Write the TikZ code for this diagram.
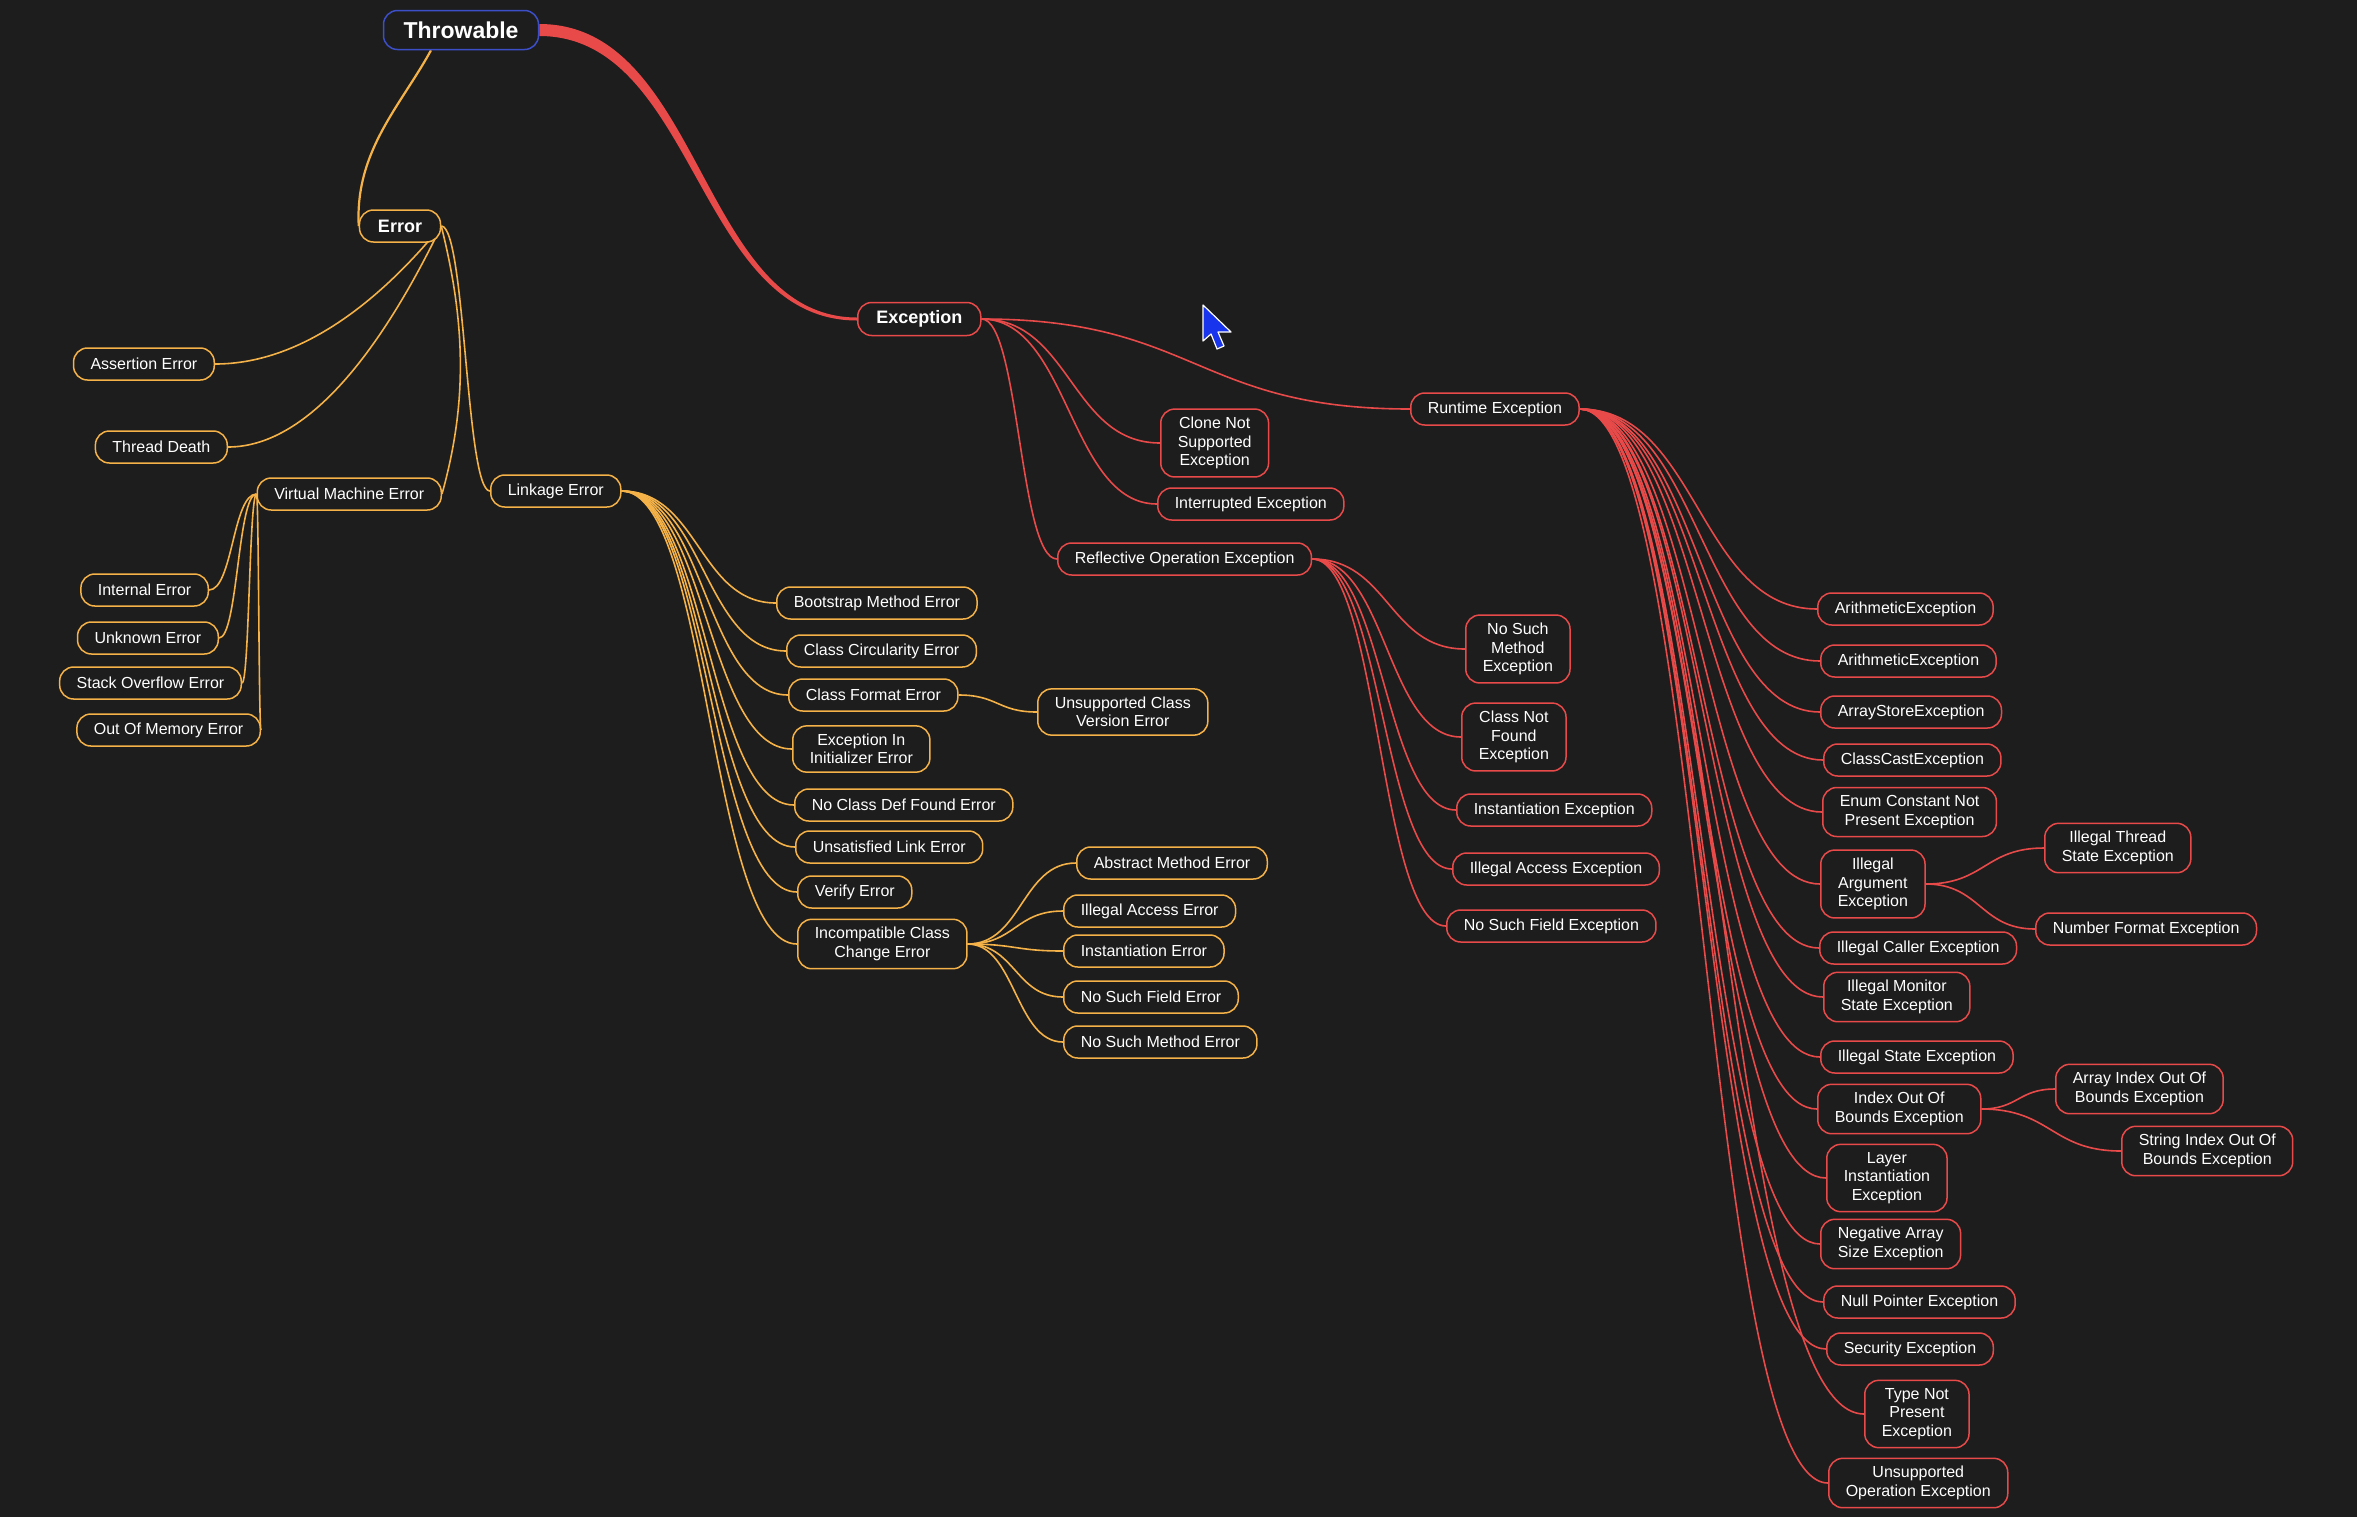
\documentclass[tikz,border=0pt]{standalone}
\usepackage{fontspec}
\setmainfont{Liberation Sans}
\usetikzlibrary{calc}

\definecolor{bgc}{RGB}{29,29,29}
\definecolor{errc}{RGB}{244,178,72}
\definecolor{excc}{RGB}{232,74,74}
\definecolor{thrc}{RGB}{60,78,200}
\definecolor{curc}{RGB}{24,52,236}

\pgfdeclarelayer{bg}
\pgfdeclarelayer{links}
\pgfsetlayers{bg,links,main}

\tikzset{
  mm/.style={rounded corners=14pt, fill=bgc, line width=1.5pt, text=white, align=center,
    inner xsep=17pt, inner ysep=8pt, minimum height=32pt, font=\fontsize{16}{18.5}\selectfont},
  ebox/.style={mm, draw=errc},
  xbox/.style={mm, draw=excc},
  eline/.style={draw=errc, line width=1.6pt},
  xline/.style={draw=excc, line width=1.6pt},
  % horizontal S-curve from one node to the next
  bough/.style={to path={let \p1=(\tikztostart),\p2=(\tikztotarget) in
    .. controls ({(\x1+\x2)/2},\y1) and ({(\x1+\x2)/2},\y2) .. (\tikztotarget)}},
  % curve that drops from the start before turning in
  twig/.style={to path={let \p1=(\tikztostart),\p2=(\tikztotarget) in
    .. controls ({\x1+0.25*(\x2-\x1)},{\y1+0.5*(\y2-\y1)}) and ({\x2-0.4*(\x2-\x1)},\y2) .. (\tikztotarget)}}
}

\begin{document}
\begin{tikzpicture}[x=1pt,y=-1pt]
  \useasboundingbox (0,0) rectangle (2357,1516);
  \begin{pgfonlayer}{bg}
    \fill[bgc] (-20,-20) rectangle (2377,1536);
  \end{pgfonlayer}
  % --- root and main branches ---
  \node[mm,draw=thrc,font=\fontsize{23}{26}\selectfont\bfseries,inner xsep=20pt,minimum height=39pt] (thr) at (461,30) {Throwable};
  \node[ebox,font=\fontsize{18}{21}\selectfont\bfseries,inner xsep=18.5pt] (err) at (400,226) {Error};
  \node[xbox,font=\fontsize{18}{21}\selectfont\bfseries,inner xsep=18.5pt,minimum height=33pt,anchor=west] (exc) at (857,319) {Exception};
  % --- Error side ---
  \foreach \n/\x/\y/\t in {assert/215/364/Assertion Error, tdeath/228/447/Thread Death, vme/442/494/Virtual Machine Error,
      internal/209/590/Internal Error, unknown/219/638/Unknown Error, stack/242/683/Stack Overflow Error, oom/261/730/Out Of Memory Error}
    \node[ebox,anchor=east] (\n) at (\x,\y) {\t};
  \foreach \n/\x/\y/\t in {link/490/491/Linkage Error, boot/776/603/Bootstrap Method Error, circ/786/651/Class Circularity Error,
      cformat/788/695/Class Format Error, exinit/792/749/{Exception In\\Initializer Error}, noclass/794/805/No Class Def Found Error,
      unsat/795/847/Unsatisfied Link Error, verify/797/892/Verify Error, incomp/797/944/{Incompatible Class\\Change Error},
      ucve/1037/712/{Unsupported Class\\Version Error}, abstract/1076/863/Abstract Method Error, illacc/1063/911/Illegal Access Error,
      inst/1063/951/Instantiation Error, nsfield/1063/997/No Such Field Error, nsmethod/1063/1042/No Such Method Error}
    \node[ebox,anchor=west] (\n) at (\x,\y) {\t};
  % --- Exception side ---
  \foreach \n/\x/\y/\t in {runtime/1410/409/Runtime Exception, clone/1160/443/{Clone Not\\Supported\\Exception},
      interr/1157/504/Interrupted Exception, reflect/1057/559/Reflective Operation Exception,
      nsme/1465/649/{No Such\\Method\\Exception}, cnfe/1461/737/{Class Not\\Found\\Exception}, instex/1456/810/Instantiation Exception,
      iaccex/1452/869/Illegal Access Exception, nsfe/1446/926/No Such Field Exception}
    \node[xbox,anchor=west] (\n) at (\x,\y) {\t};
  \foreach \n/\x/\y/\t in {arith1/1817/609/ArithmeticException, arith2/1820/661/ArithmeticException, arrstore/1820/712/ArrayStoreException,
      ccast/1823/760/ClassCastException, enumc/1822/812/{Enum Constant Not\\Present Exception}, illarg/1820/884/{Illegal\\Argument\\Exception},
      illcall/1819/948/Illegal Caller Exception, illmon/1823/997/{Illegal Monitor\\State Exception}, illstate/1820/1057/Illegal State Exception,
      ioobe/1817/1109/{Index Out Of\\Bounds Exception}, layer/1826/1178/{Layer\\Instantiation\\Exception},
      negarr/1820/1244/{Negative Array\\Size Exception}, nullp/1823/1302/Null Pointer Exception, secur/1826/1349/Security Exception,
      typenp/1864/1414/{Type Not\\Present\\Exception}, unsupop/1828/1483/{Unsupported\\Operation Exception},
      itse/2044/848/{Illegal Thread\\State Exception}, nfe/2035/929/Number Format Exception,
      aioobe/2055/1089/{Array Index Out Of\\Bounds Exception}, sioobe/2121/1151/{String Index Out Of\\Bounds Exception}}
    \node[xbox,anchor=west] (\n) at (\x,\y) {\t};
  % --- connectors ---
  \begin{pgfonlayer}{links}
    \fill[excc] ($(thr.east)+(0,-6)$) .. controls ($(thr.east)+(163,-6)$) and ($(exc.west)+(-157,-1.5)$) .. ($(exc.west)+(0,-1.5)$)
      -- ($(exc.west)+(0,1.5)$) .. controls ($(exc.west)+(-161,1.5)$) and ($(thr.east)+(157,6)$) .. ($(thr.east)+(0,6)$) -- cycle;
    \draw[eline,line width=2.2pt] ($(thr.south)+(-30,0)$) .. controls +(-30,55) and +(-4,-75) .. (err.west);
    \draw[eline] (err.east) .. controls +(25,100) and +(25,-90) .. (vme.east);
    \foreach \c in {assert,tdeath} \draw[eline] (err.east) to[twig] (\c.east);
    \draw[eline] (err.east) to[bough] (link.west);
    \foreach \c in {internal,unknown,stack,oom} \draw[eline] (vme.west) to[bough] (\c.east);
    \foreach \c in {boot,circ,cformat,exinit,noclass,unsat,verify,incomp} \draw[eline] (link.east) to[bough] (\c.west);
    \draw[eline] (cformat.east) to[bough] (ucve.west);
    \foreach \c in {abstract,illacc,inst,nsfield,nsmethod} \draw[eline] (incomp.east) to[bough] (\c.west);
    \foreach \c in {runtime,clone,interr,reflect} \draw[xline] (exc.east) to[bough] (\c.west);
    \foreach \c in {nsme,cnfe,instex,iaccex,nsfe} \draw[xline] (reflect.east) to[bough] (\c.west);
    \foreach \c in {arith1,arith2,arrstore,ccast,enumc,illarg,illcall,illmon,illstate,ioobe,layer,negarr,nullp,secur,typenp,unsupop}
      \draw[xline] (runtime.east) to[bough] (\c.west);
    \foreach \c in {itse,nfe} \draw[xline] (illarg.east) to[bough] (\c.west);
    \foreach \c in {aioobe,sioobe} \draw[xline] (ioobe.east) to[bough] (\c.west);
  \end{pgfonlayer}
  % mouse pointer
  \filldraw[fill=curc,draw=white,line width=1.2pt,line join=round] (1203,305) -- ++(0,36) -- ++(8,-7) -- ++(6,15) -- ++(7,-3) -- ++(-6,-14) -- ++(13,0) -- cycle;
\end{tikzpicture}
\end{document}
